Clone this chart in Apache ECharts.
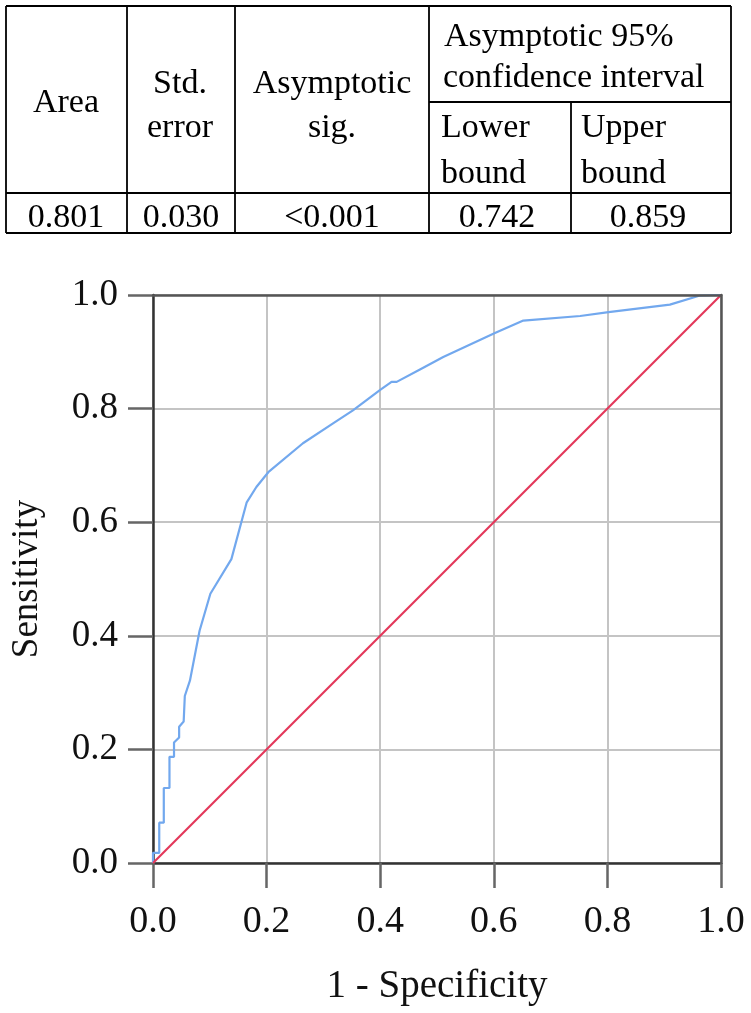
<!DOCTYPE html>
<html>
<head>
<meta charset="utf-8">
<script src="https://cdn.jsdelivr.net/npm/echarts@6/dist/echarts.min.js"></script>
<style>
  html, body { margin: 0; padding: 0; background: #fff; }
  #chart { width: 751px; height: 1013px; }
</style>
</head>
<body>
<div id="chart"></div>
<script>
// ---- Data ----
const tableHeaders = ['Area', 'Std.\nerror', 'Asymptotic\nsig.', 'Asymptotic 95%\nconfidence interval', 'Lower\nbound', 'Upper\nbound'];
const tableValues = ['0.801', '0.030', '<0.001', '0.742', '0.859'];

// ROC curve: 1 - specificity (x) and sensitivity (y)
const rocX = [0, 0, 0.011, 0.011, 0.019, 0.019, 0.029, 0.029, 0.037, 0.037, 0.046, 0.046, 0.054, 0.056, 0.065, 0.082, 0.101, 0.138, 0.165, 0.182, 0.203, 0.264, 0.317, 0.352, 0.400, 0.420, 0.429, 0.470, 0.511, 0.602, 0.652, 0.752, 0.802, 0.910, 0.963, 1.0];
const rocY = [0, 0.018, 0.018, 0.071, 0.071, 0.132, 0.132, 0.187, 0.187, 0.212, 0.221, 0.240, 0.249, 0.294, 0.321, 0.409, 0.474, 0.535, 0.635, 0.662, 0.688, 0.739, 0.774, 0.797, 0.833, 0.847, 0.847, 0.869, 0.891, 0.933, 0.955, 0.963, 0.970, 0.983, 0.999, 1.0];
// Reference diagonal
const refX = [0, 1];
const refY = [0, 1];

const xAxisName = '1 - Specificity';
const yAxisName = 'Sensitivity';

// ---- Build ----
const serif = 'Liberation Serif';
const tableFont = 34;
const lineStyle = { stroke: '#000', lineWidth: 1.8 };

function hLine(x1, x2, y) { return { type: 'line', shape: { x1, y1: y, x2, y2: y }, style: lineStyle, silent: true }; }
function vLine(x, y1, y2) { return { type: 'line', shape: { x1: x, y1, x2: x, y2 }, style: lineStyle, silent: true }; }
function txt(t, x, y, align) {
  return { type: 'text', x, y, silent: true,
    style: { text: t, fill: '#000', fontSize: tableFont, fontFamily: serif, align: align || 'center', verticalAlign: 'middle' } };
}

const T = { left: 6, right: 731, top: 6, sub: 102, head: 193, bottom: 233 };
const C = [6, 127, 235, 429, 571, 731];

const h = tableHeaders.map(s => s.split('\n'));
const graphics = [
  hLine(T.left, T.right, T.top),
  hLine(C[3], T.right, T.sub),
  hLine(T.left, T.right, T.head),
  hLine(T.left, T.right, T.bottom),
  vLine(C[0], T.top, T.bottom),
  vLine(C[1], T.top, T.bottom),
  vLine(C[2], T.top, T.bottom),
  vLine(C[3], T.top, T.bottom),
  vLine(C[4], T.sub, T.bottom),
  vLine(C[5], T.top, T.bottom),
  txt(h[0][0], 66, 103),
  txt(h[1][0], 180, 84), txt(h[1][1], 180, 128),
  txt(h[2][0], 332, 84), txt(h[2][1], 332, 128),
  txt(h[3][0], 444, 37, 'left'), txt(h[3][1], 443, 78, 'left'),
  txt(h[4][0], 441, 128, 'left'), txt(h[4][1], 441, 174, 'left'),
  txt(h[5][0], 581, 128, 'left'), txt(h[5][1], 581, 174, 'left'),
  txt(tableValues[0], 66, 218),
  txt(tableValues[1], 181, 218),
  txt(tableValues[2], 332, 218),
  txt(tableValues[3], 497, 218),
  txt(tableValues[4], 648, 218)
];

const axisCommon = {
  type: 'value', min: 0, max: 1, interval: 0.2,
  nameLocation: 'middle',
  axisLine: { show: true, lineStyle: { color: '#333', width: 2.5 } },
  axisTick: { show: true, length: 25, lineStyle: { color: '#666', width: 2.5 } },
  splitLine: { show: true, lineStyle: { color: '#c4c4c4', width: 2 } },
  axisLabel: { fontSize: 37, fontFamily: serif, color: '#111', formatter: v => v.toFixed(1) }
};
const borderAxis = {
  type: 'value', min: 0, max: 1, interval: 0.2, z: 5,
  axisLine: { show: true, onZero: false, lineStyle: { color: '#555', width: 2.5 } },
  axisTick: { show: false }, axisLabel: { show: false }, splitLine: { show: false }
};

const chart = echarts.init(document.getElementById('chart'), null, { renderer: 'canvas' });
chart.setOption({
  animation: false,
  backgroundColor: '#fff',
  textStyle: { fontFamily: serif },
  grid: { left: 153, right: 30, top: 295, bottom: 150, containLabel: false, outerBoundsMode: 'none' },
  xAxis: [
    Object.assign({}, axisCommon, {
      name: xAxisName, nameGap: 104,
      nameTextStyle: { fontSize: 39, fontFamily: serif, color: '#111' },
      axisLabel: Object.assign({}, axisCommon.axisLabel, { fontSize: 38, margin: 40 })
    }),
    Object.assign({}, borderAxis, { position: 'top' })
  ],
  yAxis: [
    Object.assign({}, axisCommon, {
      name: yAxisName, nameGap: 107,
      nameTextStyle: { fontSize: 37, fontFamily: serif, color: '#111' },
      axisLabel: Object.assign({}, axisCommon.axisLabel, { margin: 35, padding: [14, 0, 0, 0] })
    }),
    Object.assign({}, borderAxis, { position: 'right' })
  ],
  series: [
    { type: 'line', data: rocX.map((x, i) => [x, rocY[i]]), showSymbol: false, symbol: 'none',
      lineStyle: { color: '#72a8ee', width: 2.2 }, z: 3 },
    { type: 'line', data: refX.map((x, i) => [x, refY[i]]), showSymbol: false, symbol: 'none',
      lineStyle: { color: '#e3375a', width: 2.2 }, z: 4 }
  ],
  graphic: graphics
});
</script>
</body>
</html>
